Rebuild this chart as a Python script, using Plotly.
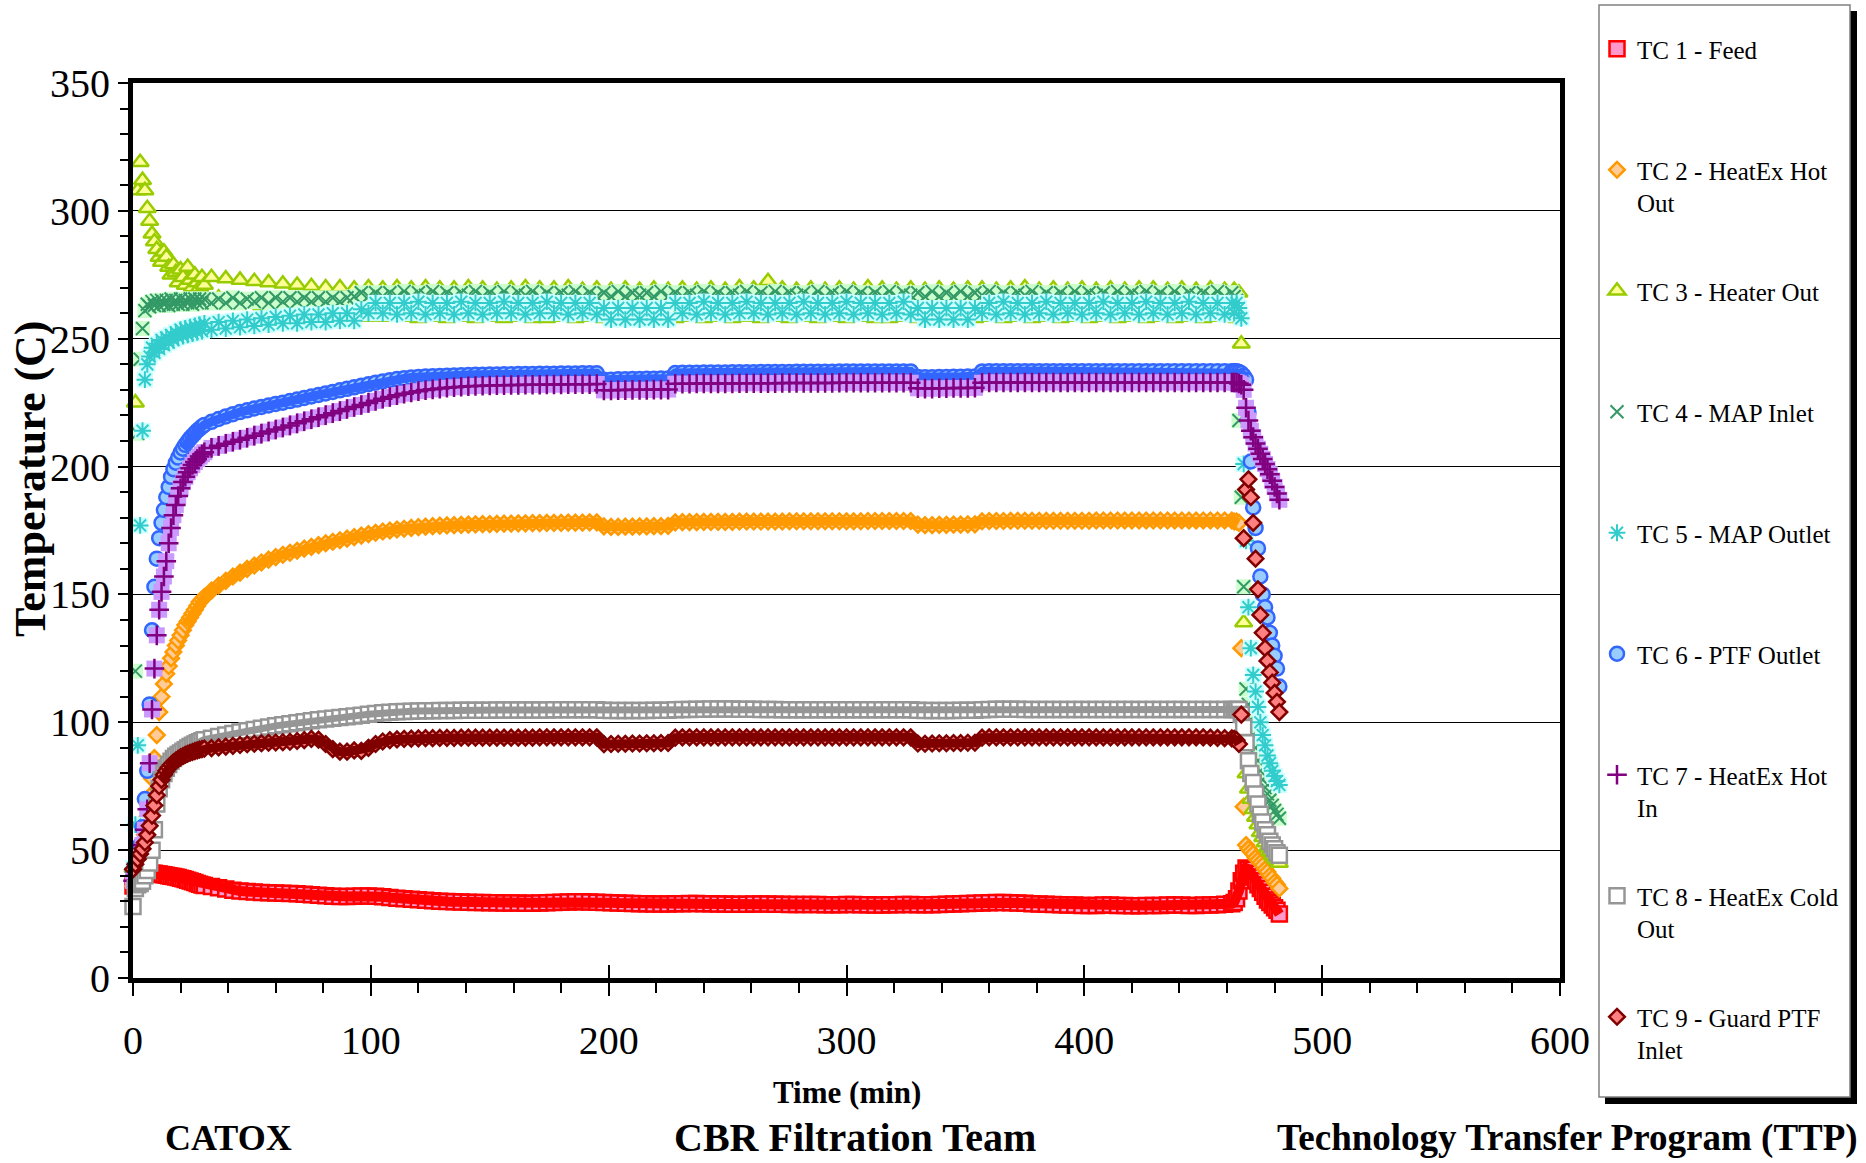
import plotly.graph_objects as go

# ---------------- data ----------------
time_seg1 = list(range(0, 31))          # start-up, 1 min
time_seg2 = list(range(33, 463, 3))     # steady operation
time_seg3 = list(range(463, 483))       # shutdown, 1 min
time_min = time_seg1 + time_seg2 + time_seg3

tc1_feed = [
    36.0, 37.0, 38.5, 39.5, 40.5, 41.0, 41.0, 41.0, 41.0, 41.0, 40.8, 40.7, 40.5, 40.4, 40.2, 40.0,
    39.8, 39.7, 39.5, 39.3, 39.0, 38.8, 38.5, 38.2, 37.9, 37.6, 37.3, 37.0, 36.7, 36.4, 36.2,
    35.8, 35.3, 34.8, 34.3, 34.0, 33.8, 33.6, 33.4, 33.3, 33.2, 33.1, 33.0,
    32.9, 32.8, 32.6, 32.4, 32.2, 32.0, 31.9, 31.9, 32.0, 32.1, 32.1, 32.0,
    31.8, 31.5, 31.2, 31.0, 30.8, 30.6, 30.4, 30.2, 30.0, 29.9, 29.8, 29.7,
    29.6, 29.5, 29.5, 29.4, 29.4, 29.3, 29.3, 29.3, 29.2, 29.2, 29.3, 29.4,
    29.5, 29.6, 29.7, 29.8, 29.8, 29.7, 29.6, 29.5, 29.4, 29.3, 29.2, 29.1,
    29.0, 29.0, 28.9, 28.9, 28.9, 29.0, 29.0, 29.1, 29.1, 29.0, 29.0, 28.9,
    28.9, 28.8, 28.8, 28.8, 28.9, 28.9, 28.9, 28.8, 28.8, 28.7, 28.7, 28.7,
    28.7, 28.7, 28.6, 28.6, 28.6, 28.7, 28.7, 28.6, 28.6, 28.5, 28.5, 28.6,
    28.6, 28.7, 28.7, 28.6, 28.6, 28.6, 28.7, 28.8, 28.9, 29.0, 29.1, 29.2,
    29.3, 29.4, 29.5, 29.5, 29.4, 29.3, 29.2, 29.0, 28.9, 28.8, 28.7, 28.6,
    28.5, 28.5, 28.4, 28.4, 28.4, 28.5, 28.5, 28.4, 28.4, 28.3, 28.3, 28.4,
    28.4, 28.4, 28.5, 28.5, 28.5, 28.4, 28.4, 28.5, 28.5, 28.6, 28.8, 29.0,
    29.5, 31.0, 34.0, 38.0, 41.0, 43.0, 42.5, 41.0, 39.5, 38.0, 36.5, 35.0, 33.5, 32.0, 30.5,
    29.5, 28.5, 27.5, 26.5, 25.0,
]

tc2_heatex_hot_out = [
    36, 38, 41, 45, 50, 56, 63, 71, 78, 86, 95, 104, 110, 115, 119, 122, 125, 127.5, 130, 132,
    134, 136, 138, 139.5, 141, 142.5, 144, 145.5, 147, 148, 149,
    151.5, 153.5, 155.3, 157.0, 158.5, 160.0, 161.3, 162.5, 163.6, 164.6, 165.5, 166.3,
    167.1, 167.9, 168.6, 169.3, 170.0, 170.6, 171.2, 171.8, 172.4, 173.0, 173.6, 174.1,
    174.6, 175.0, 175.4, 175.7, 176.0, 176.3, 176.5, 176.7, 176.9, 177.0, 177.1, 177.2,
    177.3, 177.4, 177.5, 177.5, 177.6, 177.7, 177.7, 177.8, 177.8, 177.9, 177.9, 178.0,
    178.0, 178.0, 178.1, 178.1, 178.1, 178.2, 178.2, 176.6, 176.4, 176.4, 176.5, 176.5,
    176.6, 176.6, 176.7, 176.7, 176.8, 178.2, 178.3, 178.3, 178.3, 178.4, 178.4, 178.4,
    178.4, 178.4, 178.5, 178.5, 178.5, 178.5, 178.5, 178.5, 178.5, 178.6, 178.6, 178.6,
    178.6, 178.6, 178.6, 178.6, 178.6, 178.6, 178.6, 178.6, 178.7, 178.7, 178.7, 178.7,
    178.7, 178.7, 178.7, 177.3, 177.1, 177.1, 177.2, 177.2, 177.3, 177.3, 177.4, 177.4,
    178.6, 178.7, 178.7, 178.7, 178.8, 178.8, 178.8, 178.8, 178.8, 178.8, 178.8, 178.8,
    178.8, 178.8, 178.8, 178.8, 178.9, 178.9, 178.9, 178.9, 178.9, 178.9, 178.9, 178.9,
    178.9, 178.9, 178.9, 178.9, 178.9, 178.9, 178.9, 178.9, 178.9, 178.9, 178.9, 178.9,
    178.5, 178.5, 178.0, 129.0, 67.0, 52.0, 50.5, 49.5, 48.5, 47.0, 46.0, 45.0, 44.0, 42.5,
    41.5, 40.0, 39.0, 37.5, 36.5, 35.0,
]

tc3_heater_out = [
    43, 225, 308, 319, 312, 308, 301, 296, 291, 288, 285, 282, 280, 284, 282, 278, 275, 279,
    276, 272, 277, 274, 271, 278, 273, 270, 275, 272, 270, 274, 271,
    274, 266, 273.5, 265, 273, 264, 272.5, 263, 272, 262, 271.5, 261,
    271, 260, 270.5, 259.5, 270, 259, 270, 258.5, 269.5, 258.5, 270, 258.5,
    269.5, 258.5, 270, 258.5, 269.5, 258, 270, 258.5, 269.5, 258, 269.5, 258.5,
    270, 258, 269.5, 258.5, 269, 258, 269.5, 258.5, 270, 258, 269.5, 258,
    269.5, 258.5, 270, 258, 269, 258.5, 269.5, 258, 269, 258.5, 269.5, 258,
    269, 258.5, 269.5, 258, 269, 258, 269.5, 258.5, 269, 258, 269.5, 258.5,
    269, 258, 270, 258.5, 269.5, 258, 272.5, 258.5, 269.5, 258, 269, 258.5,
    269.5, 258, 269, 258.5, 269.5, 258, 269, 258.5, 270, 258, 269.5, 258,
    269, 258.5, 269.5, 258, 269, 258.5, 269.5, 258, 269, 258.5, 269.5, 258,
    269.5, 258.5, 269, 258, 269.5, 258.5, 270, 258, 269, 258.5, 269.5, 258,
    269, 258.5, 269.5, 258, 269, 258.5, 269.5, 258, 269, 258.5, 269.5, 258,
    269.5, 258.5, 269, 258, 269.5, 258.5, 269, 258, 269.5, 258.5, 269, 258.5,
    269, 258, 268, 248, 139, 80, 74, 70, 66, 63, 60, 57, 55, 53, 51, 49.5, 48, 47, 46, 45,
]

tc4_map_inlet = [
    43, 120, 213, 242, 254, 261, 263.5, 262.5, 264.5, 263, 265, 263, 265, 263.5, 265, 263,
    265.5, 263.5, 265, 263.5, 265.5, 263.5, 265, 264, 265.5, 263.5, 265.5, 264, 265.5, 264, 265.5,
    264, 265.5, 264, 266, 264, 265.5, 264.5, 266, 264, 266, 264.5, 266,
    264.5, 266, 264.5, 266, 264.5, 266, 264.5, 266, 266.5, 268, 266.5, 268,
    266.5, 268, 266.5, 268.5, 266.5, 268, 267, 268.5, 266.5, 268, 266.5, 268,
    267, 268.5, 266.5, 268, 266.5, 268.5, 266.5, 268, 267, 268.5, 266.5, 268,
    266.5, 268, 267, 268.5, 266.5, 268, 266.5, 268, 266.5, 268.5, 266.5, 268,
    267, 268, 266.5, 268.5, 266.5, 268, 266.5, 268, 267, 268.5, 266.5, 268,
    266.5, 268, 267, 268.5, 266.5, 268, 266.5, 268.5, 266.5, 268, 267, 268,
    266.5, 268.5, 266.5, 268, 267, 268.5, 266.5, 268, 266.5, 268, 266.5, 268.5,
    266.5, 268, 267, 268, 266.5, 268.5, 266.5, 268, 266.5, 268.5, 266.5, 268,
    267, 268.5, 266.5, 268, 266.5, 268, 267, 268.5, 266.5, 268, 266.5, 268,
    266.5, 268.5, 266.5, 268, 267, 268, 266.5, 268.5, 266.5, 268, 267, 268.5,
    266.5, 268, 266.5, 268.5, 266.5, 268, 267, 268, 266.5, 268.5, 266.5, 268,
    266.5, 265, 218, 188, 153, 113, 107, 101, 95, 90, 85, 81, 77.5, 74.5, 72, 69.5, 67.5,
    65.5, 64, 62.5,
]

tc5_map_outlet = [
    43, 60, 91, 177, 214, 234, 240, 243, 246.5, 244.5, 248, 246, 249.5, 247.5, 250.5, 248.5,
    251.5, 249.5, 252.5, 250.5, 253.5, 251, 254, 251.5, 254.5, 252, 255, 252.5, 255.5, 253, 256,
    253.5, 256.5, 254, 257, 254.5, 257.5, 255, 258, 255.5, 258.5, 256, 259,
    256, 259.5, 256.5, 259.5, 256.5, 260, 257, 260, 257, 261.5, 260, 264,
    260, 264, 259.5, 264, 260, 264.5, 259.5, 264, 260, 264, 259.5, 264.5,
    260, 264, 259.5, 264, 260, 264.5, 260, 264, 259.5, 264, 260, 264.5,
    260, 264, 259.5, 264, 260, 264, 259.5, 262, 257.5, 262, 257.5, 262,
    257.5, 262, 257.5, 262, 257.5, 264, 260, 264, 259.5, 264.5, 260, 264,
    259.5, 264, 260, 264.5, 260, 264, 259.5, 264, 260, 264, 259.5, 264.5,
    260, 264, 259.5, 264, 260, 264.5, 259.5, 264, 260, 264, 259.5, 264,
    260, 264.5, 259.5, 262, 257.5, 262, 257.5, 262, 257.5, 262, 257.5, 262,
    260, 264, 259.5, 264.5, 260, 264, 259.5, 264, 260, 264.5, 259.5, 264,
    260, 264, 259.5, 264, 260, 264.5, 259.5, 264, 260, 264, 259.5, 264.5,
    260, 264, 259.5, 264, 260, 264.5, 259.5, 264, 260, 264, 259.5, 264,
    260, 264, 262, 258, 201, 171, 145, 129, 118.5, 112, 106, 100, 95, 91, 87, 84, 81, 79,
    77, 75.5,
]

tc6_ptf_outlet = [
    42, 44, 47, 52, 59, 70, 81, 107, 136, 153, 164, 172, 178, 183, 188, 192, 196, 199, 201.5,
    203.5, 205.5, 207, 208.5, 209.8, 211, 212, 213, 214, 214.8, 215.6, 216.3,
    217.5, 218.6, 219.6, 220.5, 221.3, 222.0, 222.7, 223.3, 223.9, 224.5, 225.0, 225.6,
    226.2, 226.8, 227.4, 228.0, 228.6, 229.2, 229.8, 230.4, 231.0, 231.6, 232.2, 232.8,
    233.3, 233.8, 234.2, 234.5, 234.8, 235.0, 235.2, 235.3, 235.4, 235.5, 235.6, 235.7,
    235.8, 235.9, 235.9, 236.0, 236.0, 236.1, 236.1, 236.2, 236.2, 236.2, 236.3, 236.3,
    236.3, 236.4, 236.4, 236.4, 236.5, 236.5, 236.5, 234.0, 234.0, 234.1, 234.1, 234.2,
    234.2, 234.3, 234.3, 234.4, 234.4, 236.6, 236.7, 236.7, 236.7, 236.8, 236.8, 236.8,
    236.8, 236.9, 236.9, 236.9, 236.9, 237.0, 237.0, 237.0, 237.0, 237.0, 237.1, 237.1,
    237.1, 237.1, 237.1, 237.1, 237.2, 237.2, 237.2, 237.2, 237.2, 237.2, 237.2, 237.2,
    237.2, 237.2, 237.2, 235.0, 234.9, 234.9, 235.0, 235.0, 235.1, 235.1, 235.2, 235.2,
    237.2, 237.3, 237.3, 237.3, 237.3, 237.3, 237.3, 237.3, 237.3, 237.3, 237.3, 237.3,
    237.3, 237.3, 237.3, 237.3, 237.3, 237.3, 237.3, 237.3, 237.3, 237.3, 237.3, 237.3,
    237.3, 237.3, 237.3, 237.3, 237.3, 237.3, 237.3, 237.3, 237.3, 237.3, 237.3, 237.3,
    237.3, 237.3, 237.0, 236.5, 235.5, 234.0, 221.0, 202.0, 184.0, 176.0, 168.0, 157.0,
    150.0, 145.0, 141.0, 135.0, 130.0, 126.0, 121.0, 114.0,
]

tc7_heatex_hot_in = [
    38, 40, 43, 47, 52, 58, 66, 84, 105, 121, 134, 144, 151, 157, 163, 170, 176, 181, 185,
    188.5, 191.5, 194, 196, 197.8, 199.3, 200.6, 201.8, 202.9, 203.9, 204.8, 205.6,
    207.3, 208.1, 208.9, 209.7, 210.5, 211.3, 212.1, 212.9, 213.7, 214.5, 215.3, 216.1,
    216.9, 217.7, 218.5, 219.3, 220.1, 220.9, 221.7, 222.5, 223.3, 224.1, 224.9, 225.7,
    226.5, 227.2, 227.9, 228.5, 229.0, 229.5, 229.9, 230.2, 230.5, 230.8, 231.0, 231.2,
    231.4, 231.5, 231.6, 231.7, 231.8, 231.8, 231.9, 231.9, 232.0, 232.0, 232.0, 232.1,
    232.1, 232.1, 232.2, 232.2, 232.2, 232.2, 232.3, 229.8, 229.8, 229.9, 229.9, 230.0,
    230.0, 230.0, 230.1, 230.1, 230.1, 232.4, 232.4, 232.4, 232.5, 232.5, 232.5, 232.5,
    232.5, 232.5, 232.6, 232.6, 232.6, 232.6, 232.6, 232.6, 232.7, 232.7, 232.7, 232.7,
    232.7, 232.7, 232.7, 232.7, 232.8, 232.8, 232.8, 232.8, 232.8, 232.8, 232.8, 232.8,
    232.8, 232.8, 232.8, 230.6, 230.5, 230.5, 230.6, 230.6, 230.7, 230.7, 230.7, 230.8,
    232.8, 232.9, 232.9, 232.9, 232.9, 232.9, 232.9, 232.9, 232.9, 232.9, 232.9, 232.9,
    232.9, 232.9, 232.9, 232.9, 232.9, 232.9, 232.9, 232.9, 232.9, 232.9, 232.9, 232.9,
    232.9, 232.9, 232.9, 232.9, 232.9, 232.9, 232.9, 232.9, 232.9, 232.9, 232.9, 232.9,
    232.9, 232.9, 232.5, 232.0, 230.0, 223.0, 218.0, 214.0, 211.5, 209.0, 207.0, 205.0,
    203.0, 201.0, 199.0, 197.0, 194.5, 192.0, 189.5, 187.0,
]

tc8_heatex_cold_out = [
    28, 35, 36.5, 37, 37.8, 40, 42, 45, 50, 58, 68, 74, 77.5, 80, 82, 83.5, 84.8, 85.8, 86.7,
    87.4, 88, 88.7, 89.3, 89.9, 90.5, 91, 91.5, 92, 92.4, 92.8, 93.2,
    93.8, 94.4, 95.0, 95.6, 96.2, 96.7, 97.2, 97.7, 98.2, 98.6, 99.0, 99.4,
    99.8, 100.2, 100.6, 101.0, 101.3, 101.6, 101.9, 102.2, 102.5, 102.8, 103.1, 103.4,
    103.7, 103.9, 104.1, 104.2, 104.3, 104.4, 104.5, 104.5, 104.6, 104.6, 104.6, 104.7,
    104.7, 104.7, 104.7, 104.7, 104.8, 104.8, 104.8, 104.8, 104.8, 104.8, 104.8, 104.8,
    104.9, 104.9, 104.9, 104.9, 104.9, 104.9, 104.9, 104.7, 104.6, 104.6, 104.6, 104.6,
    104.6, 104.6, 104.7, 104.7, 104.7, 104.9, 105.0, 105.0, 105.1, 105.1, 105.2, 105.2,
    105.2, 105.2, 105.1, 105.1, 105.1, 105.0, 105.0, 105.0, 104.9, 104.9, 104.9, 104.9,
    104.9, 104.9, 104.9, 104.9, 104.9, 104.9, 104.9, 104.9, 104.9, 104.9, 104.9, 104.9,
    104.9, 104.9, 104.9, 104.7, 104.6, 104.6, 104.6, 104.6, 104.6, 104.7, 104.7, 104.7,
    104.9, 105.0, 105.1, 105.1, 105.1, 105.1, 105.0, 105.0, 105.0, 105.0, 105.0, 105.0,
    105.0, 105.0, 105.0, 105.0, 105.0, 105.0, 105.0, 105.0, 105.0, 105.0, 105.0, 105.0,
    105.0, 105.0, 105.0, 105.0, 105.0, 105.0, 105.0, 105.0, 105.0, 105.0, 105.0, 105.0,
    105.0, 105.0, 105.0, 103.0, 98.0, 92.0, 85.0, 80.0, 76.5, 72.0, 68.0, 64.0, 61.0, 58.0,
    56.0, 53.5, 52.0, 50.5, 49.0, 48.0,
]

tc9_guard_ptf_inlet = [
    42.5, 44.5, 46.5, 48.5, 50.5, 53, 56, 59.5, 63.5, 67.5, 71.5, 75, 77.5, 79.5, 81, 82.3,
    83.4, 84.3, 85, 85.7, 86.3, 86.8, 87.3, 87.7, 88.1, 88.4, 88.7, 89, 89.3, 89.5, 89.7,
    89.9, 90.2, 90.5, 90.8, 91.1, 91.4, 91.6, 91.8, 92.0, 92.1, 92.2, 92.4,
    92.7, 93.0, 93.5, 93.2, 91.5, 89.5, 88.5, 88.5, 89.0, 88.8, 90.0, 91.5,
    92.5, 93.0, 93.3, 93.5, 93.6, 93.7, 93.8, 93.8, 93.9, 93.9, 93.9, 94.0,
    94.0, 94.0, 94.0, 94.0, 94.0, 94.0, 94.0, 94.0, 94.0, 94.0, 94.1, 94.1,
    94.1, 94.1, 94.1, 94.1, 94.1, 94.1, 94.1, 91.4, 91.5, 91.6, 91.6, 91.7,
    91.7, 91.8, 91.8, 91.9, 91.9, 94.0, 94.1, 94.1, 94.1, 94.1, 94.1, 94.1,
    94.1, 94.1, 94.1, 94.1, 94.1, 94.1, 94.1, 94.1, 94.1, 94.1, 94.1, 94.1,
    94.1, 94.1, 94.1, 94.1, 94.1, 94.1, 94.1, 94.1, 94.1, 94.1, 94.1, 94.1,
    94.1, 94.1, 94.1, 91.7, 91.6, 91.7, 91.8, 91.8, 91.9, 91.9, 92.0, 92.0,
    94.0, 94.1, 94.1, 94.1, 94.1, 94.1, 94.1, 94.1, 94.1, 94.1, 94.1, 94.1,
    94.1, 94.1, 94.1, 94.1, 94.1, 94.1, 94.1, 94.1, 94.1, 94.1, 94.1, 94.1,
    94.1, 94.1, 94.1, 94.1, 94.1, 94.1, 94.1, 94.1, 94.0, 93.9, 93.8, 93.7,
    93.5, 93.0, 91.5, 103.0, 172.0, 191.0, 195.0, 188.0, 178.0, 164.0, 152.0, 142.0, 135.0,
    129.0, 124.0, 119.5, 115.5, 111.5, 108.0, 104.0,
]

series_names = [
    "TC 1 - Feed",
    "TC 2 - HeatEx Hot<br>Out",
    "TC 3 - Heater Out",
    "TC 4 - MAP Inlet",
    "TC 5 - MAP Outlet",
    "TC 6 - PTF Outlet",
    "TC 7 - HeatEx Hot<br>In",
    "TC 8 - HeatEx Cold<br>Out",
    "TC 9 - Guard PTF<br>Inlet",
]
series_values = [tc1_feed, tc2_heatex_hot_out, tc3_heater_out, tc4_map_inlet, tc5_map_outlet,
                 tc6_ptf_outlet, tc7_heatex_hot_in, tc8_heatex_cold_out, tc9_guard_ptf_inlet]

x_ticks = [0, 100, 200, 300, 400, 500, 600]
y_ticks = [0, 50, 100, 150, 200, 250, 300, 350]

# ---------------- styling ----------------
# (symbol, size, fill, line colour, line width, background square colour,
#  dense-band stroke width, band start/end time). The stroke imitates the
#  densely overlapping markers of the original, which merge into solid bands.
styles = [
    ("square", 15, "#FF99CC", "#FF0000", 2.5, None, 10, (4, 482)),
    ("diamond", 12, "#FFCC99", "#FF9900", 2.5, None, 9, (22, 465)),
    ("triangle-up", 15, "#FFFF99", "#99CC00", 2.5, None, 0, None),
    ("x-thin-open", 13, "#339966", "#339966", 2, "#CCFFCC", 0, None),
    ("asterisk-open", 14, "#33CCCC", "#33CCCC", 2, "#CCFFFF", 0, None),
    ("circle", 14, "#99CCFF", "#3366FF", 2.5, None, 9, (21, 468)),
    ("cross-thin-open", 14, "#800080", "#800080", 2.5, "#CC99FF", 0, None),
    ("square", 15, "#FFFFFF", "#969696", 2.5, None, 7, (14, 465)),
    ("diamond", 12, "#FF8080", "#800000", 2.5, None, 9, (12, 465)),
]

FONT = "Liberation Serif"
L, R, T, B = 133, 1560, 83, 978
W, H = 1866, 1163


def px(xp):
    return (xp - L) / (R - L)


def py(yp):
    return (B - yp) / (B - T)


fig = go.Figure()
for i, (name, vals, st) in enumerate(zip(series_names, series_values, styles)):
    assert len(vals) == len(time_min), (name, len(vals), len(time_min))
    sym, size, fill, lcol, lw, bg, band_w, band_rng = st
    label = name if "<br>" in name else name + "<br>\u00a0"
    grp = "g%d" % i
    if bg is not None:
        fig.add_trace(go.Scatter(
            x=time_min, y=vals, mode="markers", legendgroup=grp, showlegend=False,
            cliponaxis=False, hoverinfo="skip",
            marker=dict(symbol="square", size=size + 2, color=bg, line=dict(width=0)),
        ))
    fig.add_trace(go.Scatter(
        x=time_min, y=vals, mode="markers", name=label, legendgroup=grp,
        cliponaxis=False,
        marker=dict(symbol=sym, size=size, color=fill, line=dict(color=lcol, width=lw)),
    ))
    if band_w:
        i0 = time_min.index(band_rng[0])
        i1 = time_min.index(band_rng[1]) + 1
        fig.add_trace(go.Scatter(
            x=time_min[i0:i1], y=vals[i0:i1], mode="lines", legendgroup=grp,
            showlegend=False, hoverinfo="skip",
            line=dict(color=lcol, width=band_w),
        ))

# invisible trace carrying the "inside" half of the crossing x ticks
fig.add_trace(go.Scatter(x=[None], y=[None], xaxis="x2", showlegend=False, hoverinfo="skip"))

axis_font = dict(family=FONT, size=40, color="black")

fig.update_layout(
    width=W, height=H, autosize=False,
    margin=dict(l=L, r=W - R, t=T, b=H - B, pad=0),
    paper_bgcolor="white", plot_bgcolor="white",
    font=dict(family=FONT, color="black"),
    showlegend=True,
    xaxis=dict(
        range=[0, 600], tickvals=x_ticks, ticktext=[str(v) for v in x_ticks],
        ticks="outside", ticklen=13, tickwidth=1.5, tickcolor="black",
        showline=True, linewidth=5, linecolor="black", mirror=True,
        showgrid=False, zeroline=False, tickfont=axis_font, ticklabelstandoff=10,
        minor=dict(dtick=20, tick0=0, ticks="outside", ticklen=10, tickwidth=1.5,
                   tickcolor="black", showgrid=False),
    ),
    xaxis2=dict(
        range=[0, 600], overlaying="x", anchor="y", side="bottom",
        tickvals=x_ticks, ticks="inside", ticklen=13, tickwidth=1.5, tickcolor="black",
        showticklabels=False, showline=False, showgrid=False, zeroline=False,
    ),
    yaxis=dict(
        range=[0, 350], tickvals=y_ticks, ticktext=[str(v) for v in y_ticks],
        ticks="outside", ticklen=10, tickwidth=1.5, tickcolor="black",
        showline=True, linewidth=5, linecolor="black", mirror=True,
        showgrid=True, gridcolor="black", gridwidth=1, zeroline=False,
        tickfont=axis_font, ticklabelstandoff=0,
        minor=dict(dtick=10, tick0=0, ticks="outside", ticklen=8, tickwidth=1.5,
                   tickcolor="black", showgrid=False),
    ),
    legend=dict(
        x=px(1597), y=py(26), xanchor="left", yanchor="top",
        bgcolor="rgba(0,0,0,0)", borderwidth=0,
        font=dict(family=FONT, size=25, color="black"),
        tracegroupgap=53, valign="top", traceorder="grouped",
        maxheight=1150,
    ),
    shapes=[
        dict(type="rect", xref="paper", yref="paper", layer="above",
             x0=px(1605), x1=px(1857), y0=py(1104), y1=py(11),
             fillcolor="black", line=dict(width=0)),
        dict(type="rect", xref="paper", yref="paper", layer="above",
             x0=px(1599), x1=px(1850), y0=py(1097), y1=py(5),
             fillcolor="white", line=dict(color="#808080", width=1.5)),
    ],
    annotations=[
        dict(text="<b>Temperature (C)</b>", xref="paper", yref="paper",
             x=px(30), y=py(479), xanchor="center", yanchor="middle", textangle=-90,
             showarrow=False, font=dict(family=FONT, size=44, color="black")),
        dict(text="<b>Time (min)</b>", xref="paper", yref="paper",
             x=px(847), y=py(1092), xanchor="center", yanchor="middle",
             showarrow=False, font=dict(family=FONT, size=31, color="black")),
        dict(text="<b>CATOX</b>", xref="paper", yref="paper",
             x=px(228), y=py(1138), xanchor="center", yanchor="middle",
             showarrow=False, font=dict(family=FONT, size=36, color="black")),
        dict(text="<b>CBR Filtration Team</b>", xref="paper", yref="paper",
             x=px(855), y=py(1137), xanchor="center", yanchor="middle",
             showarrow=False, font=dict(family=FONT, size=40, color="black")),
        dict(text="<b>Technology Transfer Program (TTP)</b>", xref="paper", yref="paper",
             x=px(1567), y=py(1138), xanchor="center", yanchor="middle",
             showarrow=False, font=dict(family=FONT, size=37, color="black")),
    ],
)

fig.write_html("out.html")
